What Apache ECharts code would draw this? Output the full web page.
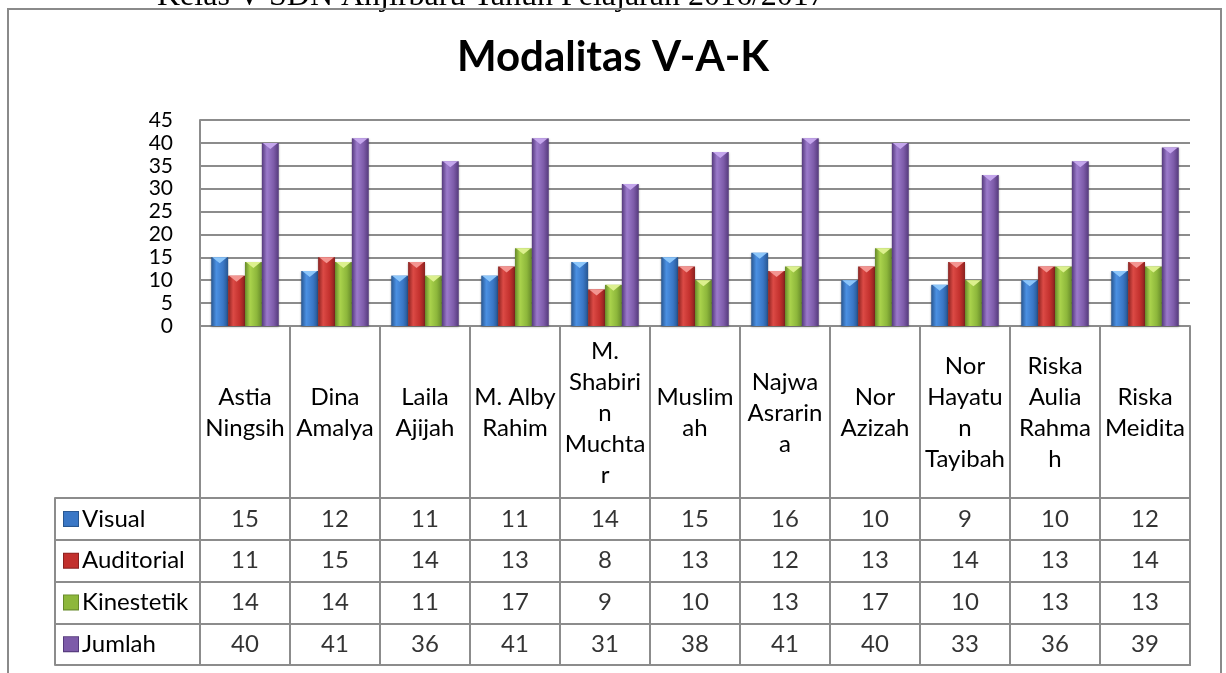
<!DOCTYPE html>
<html>

<head>
    <meta charset="utf-8" />
    <title>Modalitas V-A-K</title>
    <script src="https://cdn.jsdelivr.net/npm/echarts@6.0.0/dist/echarts.min.js"></script>
    <style>
        html, body { margin: 0; padding: 0; background: #fff; }
        #main { width: 1226px; height: 673px; }
    </style>
</head>

<body>
    <div id="main"></div>
    <script type="text/javascript">
        // names as wrapped in the chart's data table
        var names = ['Astia\nNingsih', 'Dina\nAmalya', 'Laila\nAjijah', 'M. Alby\nRahim', 'M.\nShabiri\nn\nMuchta\nr',
            'Muslim\nah', 'Najwa\nAsrarin\na', 'Nor\nAzizah', 'Nor\nHayatu\nn\nTayibah', 'Riska\nAulia\nRahma\nh', 'Riska\nMeidita'];
        var seriesNames = ['Visual', 'Auditorial', 'Kinestetik', 'Jumlah'];
        var visual = [15, 12, 11, 11, 14, 15, 16, 10, 9, 10, 12];
        var auditorial = [11, 15, 14, 13, 8, 13, 12, 13, 14, 13, 14];
        var kinestetik = [14, 14, 11, 17, 9, 10, 13, 17, 10, 13, 13];
        var jumlah = [40, 41, 36, 41, 31, 38, 41, 40, 33, 36, 39];
        var values = [visual, auditorial, kinestetik, jumlah];

        // dark edge, light, mid, chevron
        var palette = [
            ['#285690', '#4b90e2', '#3a77c6', '#8cc6fa'],
            ['#8a2220', '#dc4a45', '#c2302d', '#f39591'],
            ['#66892a', '#aad34c', '#8db73b', '#dcf08e'],
            ['#553a7c', '#9b7acb', '#7d5ba9', '#c4a6ec']
        ];
        var lineCol = '#8c8c8c';
        var font = 'Lato, "Open Sans", sans-serif';

        function barFill(p) {
            return new echarts.graphic.LinearGradient(0, 0, 1, 0, [
                { offset: 0, color: p[0] },
                { offset: 0.3, color: p[1] },
                { offset: 0.7, color: p[2] },
                { offset: 1, color: p[0] }
            ]);
        }

        var series = [];
        values.forEach(function (vals, k) {
            series.push({
                name: seriesNames[k],
                type: 'bar',
                xAxisIndex: 0,
                yAxisIndex: 0,
                data: vals,
                barGap: '0%',
                barCategoryGap: '25%',
                itemStyle: {
                    color: barFill(palette[k]),
                    shadowBlur: 2,
                    shadowOffsetY: 1,
                    shadowColor: 'rgba(0,0,0,0.3)'
                }
            });
        });
        // light bevel on top of each bar
        values.forEach(function (vals, k) {
            series.push({
                type: 'pictorialBar',
                xAxisIndex: 0,
                yAxisIndex: 0,
                data: vals,
                barGap: '0%',
                barCategoryGap: '25%',
                symbol: 'path://M0,0L10,0L5,4Z',
                symbolSize: ['88%', 6],
                symbolPosition: 'end',
                z: 3,
                silent: true,
                itemStyle: { color: palette[k][3] }
            });
        });

        // numbers in the data table
        var cells = [];
        values.forEach(function (vals, r) {
            vals.forEach(function (v, i) {
                cells.push([i, r, v]);
            });
        });
        series.push({
            type: 'scatter',
            xAxisIndex: 1,
            yAxisIndex: 1,
            data: cells,
            symbolSize: 1,
            silent: true,
            itemStyle: { color: 'rgba(0,0,0,0)' },
            label: {
                show: true,
                position: 'inside',
                formatter: function (p) { return p.value[2]; },
                color: '#000',
                fontFamily: font,
                fontSize: 24
            }
        });

        var rich = { t: { fontFamily: font, fontSize: 24, color: '#000', padding: [0, 0, 0, 4] } };
        palette.forEach(function (p, k) {
            rich['k' + k] = { width: 14, height: 14, backgroundColor: p[2], borderColor: p[0], borderWidth: 1 };
        });

        var chart = echarts.init(document.getElementById('main'));
        chart.setOption({
            animation: false,
            title: {
                text: 'Modalitas V-A-K',
                left: 'center',
                top: 31,
                textStyle: { fontFamily: font, fontWeight: 'bold', fontSize: 42, color: '#000' }
            },
            graphic: [
                {
                    type: 'text',
                    x: 157,
                    y: 13,
                    style: {
                        text: 'Kelas V SDN Anjirbaru Tahun Pelajaran 2016/2017',
                        font: '32px "Liberation Serif", "Times New Roman", serif',
                        fill: '#000',
                        verticalAlign: 'bottom'
                    }
                },
                {
                    type: 'rect',
                    shape: { x: 8, y: 9, width: 1213, height: 720 },
                    style: { fill: 'none', stroke: '#8a8a8a', lineWidth: 2 }
                }
            ],
            grid: [
                { left: 200, right: 36, top: 120, height: 206 },
                { left: 200, right: 36, top: 498, height: 167, show: true, borderColor: lineCol, borderWidth: 2, backgroundColor: 'transparent' }
            ],
            xAxis: [
                {
                    gridIndex: 0,
                    type: 'category',
                    data: names,
                    axisLine: { lineStyle: { color: lineCol, width: 2 } },
                    axisTick: { show: true, interval: 0, length: 172, lineStyle: { color: lineCol, width: 2 } },
                    axisLabel: {
                        interval: 0,
                        margin: 87,
                        verticalAlign: 'middle',
                        lineHeight: 31,
                        color: '#000',
                        fontFamily: font,
                        fontSize: 24
                    }
                },
                {
                    gridIndex: 1,
                    type: 'category',
                    data: names,
                    axisLine: { show: false },
                    axisTick: { show: false },
                    axisLabel: { show: false },
                    splitLine: { show: true, interval: 0, lineStyle: { color: lineCol, width: 2 } }
                }
            ],
            yAxis: [
                {
                    gridIndex: 0,
                    type: 'value',
                    min: 0,
                    max: 45,
                    interval: 5,
                    axisLine: { show: true, lineStyle: { color: lineCol, width: 2 } },
                    axisTick: { show: false },
                    splitLine: { lineStyle: { color: lineCol, width: 2 } },
                    axisLabel: { margin: 27, color: '#000', fontFamily: font, fontSize: 21 }
                },
                {
                    gridIndex: 1,
                    type: 'category',
                    data: seriesNames,
                    inverse: true,
                    axisLine: { show: true, lineStyle: { color: lineCol, width: 2 } },
                    axisTick: { show: true, interval: 0, length: 145, lineStyle: { color: lineCol, width: 2 } },
                    splitLine: { show: true, interval: 0, lineStyle: { color: lineCol, width: 2 } },
                    axisLabel: {
                        interval: 0,
                        align: 'left',
                        margin: 136,
                        formatter: function (v, i) { return '{k' + i + '|}{t|' + v + '}'; },
                        rich: rich
                    }
                },
                {
                    gridIndex: 1,
                    type: 'category',
                    data: seriesNames,
                    position: 'left',
                    offset: 145,
                    axisLine: { show: true, lineStyle: { color: lineCol, width: 2 } },
                    axisTick: { show: false },
                    axisLabel: { show: false }
                }
            ],
            series: series
        });
    </script>
</body>

</html>
